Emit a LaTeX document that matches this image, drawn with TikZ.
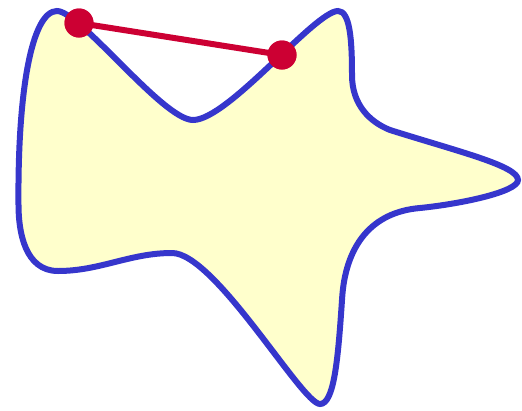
\documentclass[tikz,border=0pt]{standalone}
\definecolor{blobblue}{RGB}{54,54,204}
\definecolor{blobfill}{RGB}{255,255,204}
\definecolor{dotred}{RGB}{204,0,51}
\begin{document}
\begin{tikzpicture}[x=1pt,y=-1pt,
  blob/.style={draw=blobblue,fill=blobfill,line width=6pt},
  dotnode/.style={circle,fill=dotred,inner sep=0pt,minimum size=29pt},
  segline/.style={draw=dotred,line width=6pt}]
\useasboundingbox (0,0) rectangle (522,410);
\path[blob] (57,11)
  .. controls (80,11) and (163,120) .. (193,120)
  .. controls (228,120) and (315,11) .. (338,11)
  .. controls (350,11) and (352,40) .. (352,75)
  .. controls (352,105) and (370,122) .. (390,130)
  .. controls (460,152) and (518,166) .. (518,180)
  .. controls (518,192) and (460,204) .. (420,208)
  .. controls (372,212) and (345,245) .. (342,300)
  .. controls (338,360) and (334,404) .. (320,404)
  .. controls (302,404) and (215,253) .. (172,253)
  .. controls (130,253) and (100,271) .. (58,271)
  .. controls (25,271) and (18.5,232) .. (18.5,205)
  .. controls (17.5,90) and (32,11) .. cycle;
\node[dotnode] (p) at (79,23) {};
\node[dotnode] (q) at (282,55) {};
\draw[segline] (p.center) -- (q.center);
\node[dotnode] at (p) {};
\node[dotnode] at (q) {};
\end{tikzpicture}
\end{document}
